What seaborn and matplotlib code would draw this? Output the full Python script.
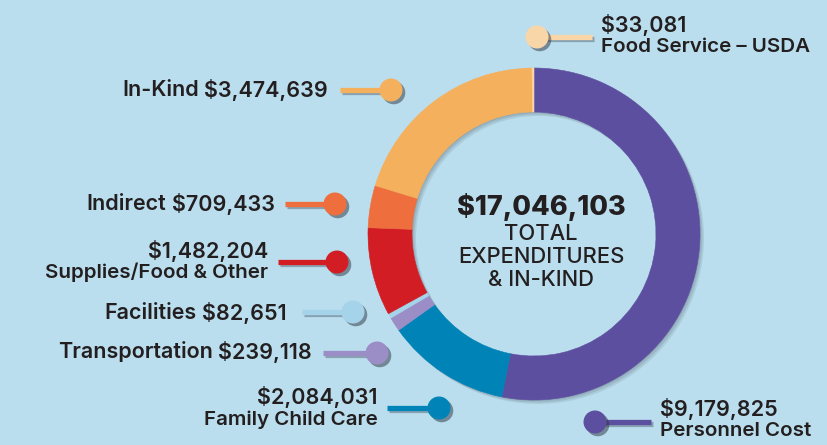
import matplotlib
matplotlib.use("Agg")
import matplotlib.pyplot as plt
import matplotlib.patheffects as pe
from matplotlib.patches import Circle, Wedge
import seaborn as sns

# --- Expenditures & In-Kind donut chart ---

# data (clockwise from 12 o'clock)
categories = ["Personnel Cost", "Family Child Care", "Transportation", "Facilities",
              "Supplies/Food & Other", "Indirect", "In-Kind", "Food Service \u2013 USDA"]
values = [9179825, 2084031, 239118, 82651, 1482204, 709433, 3474639, 33081]
value_labels = ["$9,179,825", "$2,084,031", "$239,118", "$82,651",
                "$1,482,204", "$709,433", "$3,474,639", "$33,081"]
total_label = "$17,046,103"
center_lines = ["TOTAL", "EXPENDITURES", "& IN-KIND"]

colors = ["#5D4FA0", "#0084B8", "#9B8EC6", "#A5D4EA",
          "#D21D24", "#EE6E3D", "#F4B05D", "#F9D6A8"]
BG = "#BBDEEE"
TXT = "#231F20"

# label layout in pixel coords: (dot x, dot y, line start x, text x, text y, style)
# style: "left1" = one line right aligned left of dot, "left2"/"right2" = value over name
layout = {
    "Personnel Cost":          (595, 422, 651, 660, 420, "right2"),
    "Family Child Care":       (439, 408, 387, 378, 408, "left2"),
    "Transportation":          (377, 353, 323, 312, 352, "left1"),
    "Facilities":              (353, 312, 302, 287, 313, "left1"),
    "Supplies/Food & Other":   (337, 262, 278, 268, 261, "left2"),
    "Indirect":                (335, 204, 285, 275, 204, "left1"),
    "In-Kind":                 (391, 90, 340, 328, 90, "left1"),
    "Food Service \u2013 USDA": (537, 37, 592, 601, 36, "right2"),
}

sns.set_theme(style="white")
plt.rcParams["font.family"] = ["Inter", "DejaVu Sans"]

fig = plt.figure(figsize=(8.27, 4.45), dpi=100)
fig.patch.set_facecolor(BG)
ax = fig.add_axes([0, 0, 1, 1])
ax.set_facecolor(BG)

CX, CY, R, W = 534, 234, 166, 44

# soft drop shadow of the ring
for off, a in [(1, 0.12), (2.5, 0.12), (4, 0.10)]:
    ax.add_patch(Wedge((CX + off, CY + off), R, 0, 360, width=W,
                       facecolor="#2b3440", edgecolor="none", alpha=a, zorder=0.5))

# y axis is flipped below, so startangle=-90 + counterclock draws clockwise from the top
wedges, _ = ax.pie(values, colors=colors, startangle=-90, counterclock=True,
                   center=(CX, CY), radius=R,
                   wedgeprops=dict(width=W, linewidth=0.4))
for wdg, col in zip(wedges, colors):
    wdg.set_edgecolor(col)

shadow_line = [pe.SimpleLineShadow(offset=(1.2, -1.2), shadow_color="#2b3440", alpha=0.35),
               pe.Normal()]
shadow_dot = [pe.SimplePatchShadow(offset=(2, -2), shadow_rgbFace="#2b3440", alpha=0.5),
              pe.Normal()]

FS = 15.5
for cat, val_txt, col in zip(categories, value_labels, colors):
    dx, dy, lx, tx, ty, style = layout[cat]
    ax.plot([lx, dx], [dy, dy], color=col, lw=3.8, solid_capstyle="butt",
            zorder=3, path_effects=shadow_line)
    ax.add_patch(Circle((dx, dy), 11.5, facecolor=col, edgecolor="none",
                        zorder=4, path_effects=shadow_dot))
    if style == "left1":
        v = ax.text(tx, ty, val_txt, ha="right", va="center", fontsize=FS,
                    fontweight="semibold", color=TXT)
        ax.annotate(cat, xy=(0, 0.5), xycoords=v, xytext=(-4, 0),
                    textcoords="offset points", ha="right", va="center",
                    fontsize=FS, fontweight="semibold", color=TXT)
    else:
        ha = "right" if style == "left2" else "left"
        ax.text(tx, ty - 10.5, val_txt, ha=ha, va="center", fontsize=FS,
                fontweight="semibold", color=TXT)
        ax.text(tx, ty + 11.5, cat, ha=ha, va="center", fontsize=14.8,
                fontweight="semibold", color=TXT)

# centre text
ax.text(541, 207, total_label, ha="center", va="center", fontsize=19.5,
        fontweight="heavy", color=TXT)
for i, line in enumerate(center_lines):
    ax.text(541, 234 + i * 23, line, ha="center", va="center", fontsize=15.8,
            fontweight="medium", color=TXT)

ax.set_xlim(0, 827)
ax.set_ylim(445, 0)
ax.set_aspect("equal")
ax.axis("off")

fig.savefig("out.png", dpi=100, facecolor=BG)
plt.close(fig)
